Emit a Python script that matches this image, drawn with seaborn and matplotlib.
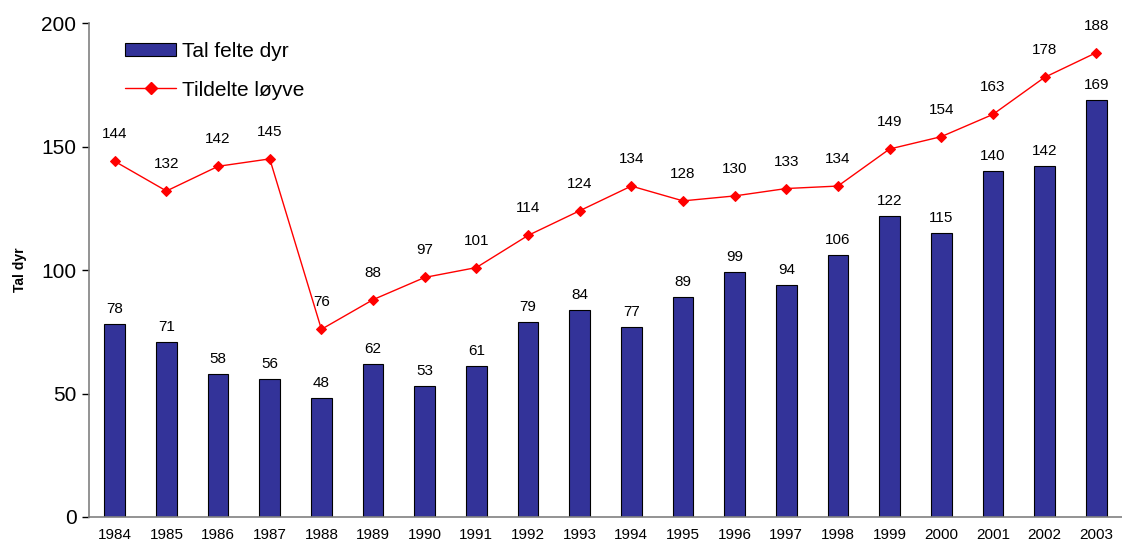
import numpy as np
import pandas as pd
import matplotlib

matplotlib.use("Agg")
import matplotlib.pyplot as plt
import seaborn as sns
from matplotlib.patches import Patch
from matplotlib.lines import Line2D

years = [str(y) for y in range(1984, 2004)]
felte = [78, 71, 58, 56, 48, 62, 53, 61, 79, 84, 77, 89, 99, 94, 106, 122, 115, 140, 142, 169]
loyve = [144, 132, 142, 145, 76, 88, 97, 101, 114, 124, 134, 128, 130, 133, 134, 149, 154, 163, 178, 188]

BAR_COLOR = "#333399"
LINE_COLOR = "#FF0000"
AXIS_GREY = "#808080"

df = pd.DataFrame({"year": years, "felte": felte, "loyve": loyve})

sns.set_theme(style="white")
plt.rcParams["font.family"] = ["Liberation Sans", "DejaVu Sans"]
plt.rcParams["text.color"] = "black"
plt.rcParams["xtick.color"] = "black"
plt.rcParams["ytick.color"] = "black"
plt.rcParams["axes.labelcolor"] = "black"

fig = plt.figure(figsize=(11.22, 5.49), dpi=100)
ax = fig.add_axes([0.0793, 0.0583, 0.9207, 0.8997])

sns.barplot(data=df, x="year", y="felte", color=BAR_COLOR, width=0.4,
            edgecolor="black", linewidth=0.8, saturation=1, ax=ax)
sns.pointplot(data=df, x="year", y="loyve", color=LINE_COLOR, markers="D",
              linestyles="-", linewidth=1, markersize=5.5, ax=ax)

# value labels
for i, v in enumerate(felte):
    ax.annotate(str(v), (i, v), xytext=(0, 15), textcoords="offset pixels",
                ha="center", va="center", fontsize=11, color="black")
for i, v in enumerate(loyve):
    ax.annotate(str(v), (i, v), xytext=(0, 27), textcoords="offset pixels",
                ha="center", va="center", fontsize=11, color="black")

ax.set_xlim(-0.5, 19.5)
ax.set_ylim(0, 200)
ax.set_yticks([0, 50, 100, 150, 200])
ax.set_xlabel("")
ax.set_ylabel("Tal dyr", fontsize=10, fontweight="bold", labelpad=10)
ax.tick_params(axis="y", labelsize=15, length=5, width=1, color="black",
               direction="out", left=True, pad=4)
ax.tick_params(axis="x", labelsize=11, length=0, pad=8)

for side in ["top", "right"]:
    ax.spines[side].set_visible(False)
for side in ["left", "bottom"]:
    ax.spines[side].set_color(AXIS_GREY)
    ax.spines[side].set_linewidth(1.2)

handles = [
    Patch(facecolor=BAR_COLOR, edgecolor="black", linewidth=0.8),
    Line2D([0], [0], color=LINE_COLOR, lw=1, marker="D", markersize=6.5),
]
ax.legend(handles, ["Tal felte dyr", "Tildelte løyve"], loc="upper left",
          bbox_to_anchor=(0.035, 0.962), frameon=False, fontsize=15,
          borderpad=0, borderaxespad=0,
          handlelength=2.45, handleheight=0.65, labelspacing=0.95,
          handletextpad=0.3)

fig.savefig("out.png", dpi=100)
